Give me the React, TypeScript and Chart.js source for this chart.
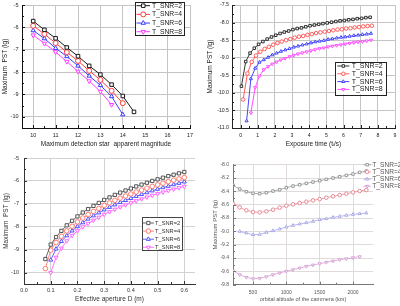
import { useEffect, useRef } from "react";
import { Chart, registerables } from "chart.js";
import { drawPoint } from "chart.js/helpers";

Chart.register(...registerables);

const FONT = "'Liberation Sans', Arial, sans-serif";
const SNR_LABELS = ["T_SNR=2", "T_SNR=4", "T_SNR=6", "T_SNR=8"];

// ---- Panel A: limiting magnitude vs PST ----
const MAGNITUDES = [10, 10.5, 11, 11.5, 12, 12.5, 13, 13.5, 14, 14.5];
const MAG_PST_SNR2 = [-5.72, -6.11, -6.49, -6.9, -7.29, -7.72, -8.11, -8.56, -9.07, -9.78];
const MAG_PST_SNR4 = [-5.93, -6.3, -6.7, -7.11, -7.5, -7.94, -8.35, -8.84, -9.39];
const MAG_PST_SNR6 = [-6.14, -6.5, -6.93, -7.3, -7.72, -8.17, -8.59, -9.09, -9.9];
const MAG_PST_SNR8 = [-6.35, -6.72, -7.1, -7.53, -7.97, -8.4, -8.87, -9.46];
const MAG_X_TICKS = [10, 11, 12, 13, 14, 15, 16, 17];
const MAG_Y_TICKS = [-5, -6, -7, -8, -9, -10];

// ---- Panel B: exposure time vs PST ----
const EXPO_T_SNR2 = [0.05, 0.3, 0.55, 0.8, 1.05, 1.3, 1.55, 1.8, 2.05, 2.3, 2.55, 2.8, 3.05, 3.3, 3.55, 3.8, 4.05, 4.3, 4.55, 4.8, 5.05, 5.3, 5.55, 5.8, 6.05, 6.3, 6.55, 6.8, 7.05, 7.3, 7.55];
const EXPO_PST_SNR2 = [-9.81, -9.11, -8.87, -8.73, -8.62, -8.54, -8.47, -8.41, -8.36, -8.31, -8.27, -8.24, -8.2, -8.17, -8.15, -8.12, -8.09, -8.07, -8.05, -8.03, -8.01, -7.99, -7.97, -7.95, -7.94, -7.92, -7.91, -7.89, -7.88, -7.86, -7.85];
const EXPO_T_SNR4 = [0.15, 0.4, 0.65, 0.9, 1.15, 1.4, 1.65, 1.9, 2.15, 2.4, 2.65, 2.9, 3.15, 3.4, 3.65, 3.9, 4.15, 4.4, 4.65, 4.9, 5.15, 5.4, 5.65, 5.9, 6.15, 6.4, 6.65, 6.9, 7.15, 7.4, 7.65];
const EXPO_PST_SNR4 = [-10.19, -9.45, -9.12, -8.94, -8.83, -8.75, -8.69, -8.63, -8.58, -8.54, -8.5, -8.47, -8.43, -8.4, -8.38, -8.35, -8.33, -8.3, -8.28, -8.26, -8.24, -8.22, -8.2, -8.19, -8.17, -8.16, -8.14, -8.13, -8.11, -8.1, -8.09];
const EXPO_T_SNR6 = [0.35, 0.6, 0.85, 1.1, 1.35, 1.6, 1.85, 2.1, 2.35, 2.6, 2.85, 3.1, 3.35, 3.6, 3.85, 4.1, 4.35, 4.6, 4.85, 5.1, 5.35, 5.6, 5.85, 6.1, 6.35, 6.6, 6.85, 7.1, 7.35, 7.6];
const EXPO_PST_SNR6 = [-10.8, -9.6, -9.3, -9.13, -9.06, -8.99, -8.92, -8.87, -8.82, -8.78, -8.74, -8.7, -8.67, -8.64, -8.61, -8.58, -8.55, -8.53, -8.51, -8.48, -8.46, -8.44, -8.42, -8.41, -8.39, -8.37, -8.36, -8.34, -8.33, -8.31];
const EXPO_T_SNR8 = [0.6, 0.85, 1.1, 1.35, 1.6, 1.85, 2.1, 2.35, 2.6, 2.85, 3.1, 3.35, 3.6, 3.85, 4.1, 4.35, 4.6, 4.85, 5.1, 5.35, 5.6, 5.85, 6.1, 6.35, 6.6, 6.85, 7.1, 7.35, 7.6];
const EXPO_PST_SNR8 = [-10.57, -9.85, -9.52, -9.34, -9.25, -9.18, -9.12, -9.06, -9.02, -8.97, -8.93, -8.89, -8.86, -8.83, -8.8, -8.77, -8.74, -8.72, -8.69, -8.67, -8.65, -8.63, -8.61, -8.59, -8.57, -8.55, -8.54, -8.52, -8.5];
const EXPO_X_TICKS = [0, 1, 2, 3, 4, 5, 6, 7, 8, 9];
const EXPO_Y_TICKS = [-7.5, -8, -8.5, -9, -9.5, -10, -10.5, -11];

// ---- Panel C: effective aperture vs PST ----
const APERTURE_D = [0.08, 0.1, 0.12, 0.14, 0.16, 0.18, 0.2, 0.22, 0.24, 0.26, 0.28, 0.3, 0.32, 0.34, 0.36, 0.38, 0.4, 0.42, 0.44, 0.46, 0.48, 0.5, 0.52, 0.54, 0.56, 0.58, 0.6];
const AP_PST_SNR2 = [-9.41, -8.78, -8.45, -8.18, -7.94, -7.74, -7.55, -7.38, -7.23, -7.09, -6.96, -6.83, -6.72, -6.61, -6.51, -6.42, -6.33, -6.24, -6.16, -6.08, -6.0, -5.93, -5.86, -5.79, -5.73, -5.67, -5.61];
const AP_PST_SNR4 = [-9.83, -9.02, -8.69, -8.42, -8.18, -7.98, -7.79, -7.62, -7.47, -7.33, -7.2, -7.07, -6.96, -6.85, -6.75, -6.66, -6.57, -6.48, -6.4, -6.32, -6.24, -6.17, -6.1, -6.03, -5.97, -5.91, -5.85];
const AP_PST_SNR6 = [-9.45, -8.97, -8.64, -8.39, -8.18, -7.99, -7.82, -7.66, -7.52, -7.39, -7.26, -7.15, -7.04, -6.94, -6.85, -6.76, -6.67, -6.59, -6.51, -6.43, -6.36, -6.29, -6.23, -6.16, -6.1, -6.04];
const AP_PST_SNR8 = [-10.01, -9.34, -8.94, -8.62, -8.38, -8.18, -8.01, -7.86, -7.72, -7.59, -7.46, -7.35, -7.24, -7.14, -7.05, -6.96, -6.87, -6.79, -6.71, -6.63, -6.56, -6.49, -6.42, -6.36, -6.3, -6.24];
const AP_X_TICKS = [0, 0.1, 0.2, 0.3, 0.4, 0.5, 0.6];
const AP_Y_TICKS = [-5, -6, -7, -8, -9, -10];

// ---- Panel D: orbital altitude vs PST ----
const ALTITUDE_KM = [200, 300, 400, 500, 600, 700, 800, 900, 1000, 1100, 1200, 1300, 1400, 1500, 1600, 1700, 1800, 1900, 2000, 2100, 2200];
const ALT_PST_SNR2 = [-8.31, -8.365, -8.405, -8.43, -8.435, -8.42, -8.395, -8.375, -8.345, -8.32, -8.3, -8.28, -8.26, -8.24, -8.22, -8.2, -8.18, -8.16, -8.14, -8.115, -8.095];
const ALT_PST_SNR4 = [-8.585, -8.64, -8.685, -8.71, -8.715, -8.7, -8.675, -8.645, -8.615, -8.595, -8.575, -8.555, -8.535, -8.515, -8.495, -8.475, -8.455, -8.435, -8.415, -8.395, -8.38];
const ALT_PST_SNR6 = [-9.0, -9.025, -9.05, -9.045, -9.015, -8.99, -8.965, -8.935, -8.91, -8.89, -8.87, -8.85, -8.825, -8.81, -8.79, -8.775, -8.76, -8.745, -8.735, -8.725];
const ALT_PST_SNR8 = [-9.59, -9.65, -9.69, -9.71, -9.705, -9.68, -9.65, -9.625, -9.6, -9.575, -9.55, -9.525, -9.505, -9.485, -9.465, -9.445, -9.425, -9.41, -9.395, -9.38];
const ALT_X_TICKS = [500, 1000, 1500, 2000];
const ALT_Y_TICKS = [-8, -8.2, -8.4, -8.6, -8.8, -9, -9.2, -9.4, -9.6, -9.8];

const STYLES = [
  { style: "rect", rotation: 0 },
  { style: "circle", rotation: 0 },
  { style: "triangle", rotation: 0 },
  { style: "triangle", rotation: 180 },
];

// Legend drawn as a small framed table of line + marker samples.
const boxLegend = {
  id: "boxLegend",
  afterDraw(chart: any, _args: any, o: any) {
    if (!o || !o.display) return;
    const ctx = chart.ctx;
    ctx.save();
    if (o.border) {
      ctx.fillStyle = "#fff";
      ctx.fillRect(o.x, o.y, o.w, o.h);
      ctx.strokeStyle = o.border;
      ctx.lineWidth = 1;
      ctx.strokeRect(Math.round(o.x) + 0.5, Math.round(o.y) + 0.5, Math.round(o.w), Math.round(o.h));
    }
    chart.data.datasets.forEach((ds: any, i: number) => {
      const cy = o.y + o.firstRow + i * o.rowH;
      ctx.strokeStyle = ds.borderColor;
      ctx.lineWidth = ds.borderWidth;
      ctx.beginPath();
      ctx.moveTo(o.lineX0, cy);
      ctx.lineTo(o.lineX1, cy);
      ctx.stroke();
      ctx.fillStyle = "#fff";
      ctx.strokeStyle = ds.pointBorderColor;
      ctx.lineWidth = 1;
      drawPoint(ctx, { pointStyle: ds.pointStyle, rotation: ds.pointRotation, radius: ds.pointRadius, borderWidth: 1 } as any, (o.lineX0 + o.lineX1) / 2, cy);
      ctx.fillStyle = o.textColor;
      ctx.font = `${o.fontSize}px ${FONT}`;
      ctx.textBaseline = "middle";
      ctx.textAlign = "left";
      ctx.fillText(ds.label, o.textX, cy);
    });
    ctx.restore();
  },
};

// Short inward-pointing major/minor tick marks on the left and bottom axes.
const innerTicks = {
  id: "innerTicks",
  afterDatasetsDraw(chart: any, _args: any, o: any) {
    if (!o || !o.display) return;
    const { ctx, chartArea, scales } = chart;
    ctx.save();
    ctx.strokeStyle = o.color;
    ctx.lineWidth = 1;
    const mids = (vals: number[]) => {
      const m: number[] = [];
      for (let i = 0; i < vals.length - 1; i++) m.push((vals[i] + vals[i + 1]) / 2);
      return m;
    };
    const xv = scales.x.ticks.map((t: any) => t.value);
    const yv = scales.y.ticks.map((t: any) => t.value);
    ctx.beginPath();
    const addX = (v: number, len: number) => {
      const px = Math.round(scales.x.getPixelForValue(v)) + 0.5;
      ctx.moveTo(px, chartArea.bottom);
      ctx.lineTo(px, chartArea.bottom - len);
    };
    const addY = (v: number, len: number) => {
      const py = Math.round(scales.y.getPixelForValue(v)) + 0.5;
      ctx.moveTo(chartArea.left, py);
      ctx.lineTo(chartArea.left + len, py);
    };
    xv.forEach((v: number) => addX(v, 3));
    mids(xv).forEach((v: number) => addX(v, 2));
    yv.forEach((v: number) => addY(v, 3));
    mids(yv).forEach((v: number) => addY(v, 2));
    ctx.stroke();
    ctx.restore();
  },
};

type Axis = {
  min: number; max: number; ticks: number[]; fmt: (v: number) => string;
  title: string; titleSize: number; titlePad: number; tickSize: number; tickPad: number;
};

type Spec = {
  width: number; height: number;
  area: { l: number; t: number; r: number; b: number };
  x: Axis; y: Axis;
  gridColor: string; axisColor: string; textColor: string;
  lineWidth: number; pointRadius: number;
  series: { xs: number[]; ys: number[]; color: string }[];
  legend: any;
};

function makeChart(canvas: HTMLCanvasElement, s: Spec) {
  const axis = (a: Axis, horizontal: boolean) => ({
    type: "linear",
    min: a.min,
    max: a.max,
    afterBuildTicks: (sc: any) => {
      sc.ticks = a.ticks.map((v) => ({ value: v }));
    },
    afterFit: (sc: any) => {
      if (horizontal) sc.height = s.height - s.area.b;
      else sc.width = s.area.l;
      sc.paddingTop = 0;
      sc.paddingBottom = 0;
      sc.paddingLeft = 0;
      sc.paddingRight = 0;
    },
    grid: { color: s.gridColor, lineWidth: 1, drawTicks: false },
    border: { display: true, color: s.axisColor, width: 1 },
    ticks: {
      autoSkip: false,
      maxRotation: 0,
      padding: a.tickPad,
      color: s.textColor,
      font: { family: FONT, size: a.tickSize },
      callback: (v: any) => a.fmt(Number(v)),
    },
    title: {
      display: true,
      text: a.title,
      color: s.textColor,
      font: { family: FONT, size: a.titleSize },
      padding: horizontal ? { top: 0, bottom: a.titlePad } : { top: a.titlePad, bottom: 0 },
    },
  });

  return new Chart(canvas, {
    type: "line",
    data: {
      datasets: s.series.map((se, i) => ({
        label: SNR_LABELS[i],
        data: se.xs.map((x, k) => ({ x, y: se.ys[k] })),
        borderColor: se.color,
        borderWidth: s.lineWidth,
        pointStyle: STYLES[i].style,
        pointRotation: STYLES[i].rotation,
        pointRadius: s.pointRadius,
        pointBorderColor: se.color,
        pointBackgroundColor: "#fff",
        pointBorderWidth: 1,
        tension: 0,
        fill: false,
      })),
    } as any,
    options: {
      responsive: false,
      animation: false,
      devicePixelRatio: 1,
      layout: { padding: { left: 0, top: s.area.t, right: s.width - s.area.r, bottom: 0 } },
      scales: { x: axis(s.x, true), y: axis(s.y, false) } as any,
      plugins: {
        legend: { display: false },
        tooltip: { enabled: false },
        boxLegend: s.legend,
        innerTicks: { display: true, color: s.axisColor },
      } as any,
    },
    plugins: [innerTicks, boxLegend],
  });
}

const W = 200;
const H = 153;
const str = (v: number) => String(v);
const fix1 = (v: number) => v.toFixed(1);

const PANELS: { left: number; top: number; spec: Spec }[] = [
  {
    left: 0,
    top: 0,
    spec: {
      width: W, height: H,
      area: { l: 22, t: 2, r: 190, b: 128 },
      x: { min: 9.5, max: 17, ticks: MAG_X_TICKS, fmt: str, title: "Maximum detection star  apparent magnitude", titleSize: 6.5, titlePad: 5.1, tickSize: 5.5, tickPad: 4.2 },
      y: { min: -10.5, max: -5, ticks: MAG_Y_TICKS, fmt: str, title: "Maximum  PST (lg)", titleSize: 6.5, titlePad: 1.1, tickSize: 5.5, tickPad: 3.5 },
      gridColor: "#c4c4c4", axisColor: "#111", textColor: "#222",
      lineWidth: 1, pointRadius: 2.5,
      series: [
        { xs: MAGNITUDES, ys: MAG_PST_SNR2, color: "#1a1a1a" },
        { xs: MAGNITUDES, ys: MAG_PST_SNR4, color: "#ff3b3b" },
        { xs: MAGNITUDES, ys: MAG_PST_SNR6, color: "#3b3bff" },
        { xs: MAGNITUDES, ys: MAG_PST_SNR8, color: "#ff40ff" },
      ],
      legend: { display: true, x: 135, y: 1.5, w: 49, h: 33, firstRow: 4.2, rowH: 8.67, lineX0: 136.5, lineX1: 150, textX: 152, fontSize: 6.8, border: "#222", textColor: "#222" },
    },
  },
  {
    left: 200,
    top: 0,
    spec: {
      width: W, height: H,
      area: { l: 32, t: 4, r: 198, b: 128 },
      x: { min: -0.5, max: 9, ticks: EXPO_X_TICKS, fmt: str, title: "Exposure time (tᵢ/s)", titleSize: 6.5, titlePad: 4.8, tickSize: 5.2, tickPad: 4 },
      y: { min: -11, max: -7.5, ticks: EXPO_Y_TICKS, fmt: fix1, title: "Maximum PST (lg)", titleSize: 6.5, titlePad: 6.1, tickSize: 5.2, tickPad: 3 },
      gridColor: "#c4c4c4", axisColor: "#222", textColor: "#222",
      lineWidth: 1, pointRadius: 1.8,
      series: [
        { xs: EXPO_T_SNR2, ys: EXPO_PST_SNR2, color: "#333333" },
        { xs: EXPO_T_SNR4, ys: EXPO_PST_SNR4, color: "#ff5a5a" },
        { xs: EXPO_T_SNR6, ys: EXPO_PST_SNR6, color: "#4545ff" },
        { xs: EXPO_T_SNR8, ys: EXPO_PST_SNR8, color: "#ff50ff" },
      ],
      legend: { display: true, x: 135, y: 61.7, w: 50.7, h: 32.6, firstRow: 4.3, rowH: 7.8, lineX0: 137.3, lineX1: 149.3, textX: 151.7, fontSize: 7, border: "#222", textColor: "#222" },
    },
  },
  {
    left: 0,
    top: 153,
    spec: {
      width: W, height: H,
      area: { l: 24, t: 1, r: 199, b: 131 },
      x: { min: 0, max: 0.64, ticks: AP_X_TICKS, fmt: fix1, title: "Effective aperture D (m)", titleSize: 6.5, titlePad: 2.4, tickSize: 5.5, tickPad: 3 },
      y: { min: -10.5, max: -5, ticks: AP_Y_TICKS, fmt: str, title: "Maximum  PST (lg)", titleSize: 6.5, titlePad: 2.8, tickSize: 5.5, tickPad: 5 },
      gridColor: "#d2d2d2", axisColor: "#333", textColor: "#333",
      lineWidth: 0.9, pointRadius: 2.3,
      series: [
        { xs: APERTURE_D, ys: AP_PST_SNR2, color: "#555555" },
        { xs: APERTURE_D, ys: AP_PST_SNR4, color: "#ff7a70" },
        { xs: APERTURE_D.slice(1), ys: AP_PST_SNR6, color: "#5050ff" },
        { xs: APERTURE_D.slice(1), ys: AP_PST_SNR8, color: "#ff66ff" },
      ],
      legend: { display: true, x: 141.7, y: 64.3, w: 40, h: 33.4, firstRow: 5.7, rowH: 8.1, lineX0: 142.7, lineX1: 154, textX: 155, fontSize: 5.7, border: "#444", textColor: "#333" },
    },
  },
  {
    left: 200,
    top: 153,
    spec: {
      width: W, height: H,
      area: { l: 33, t: 11.7, r: 173, b: 131.7 },
      x: { min: 200, max: 2300, ticks: ALT_X_TICKS, fmt: str, title: "orbital altitude of the cammera (km)", titleSize: 5.5, titlePad: 3.7, tickSize: 5, tickPad: 4.6 },
      y: { min: -9.8, max: -8, ticks: ALT_Y_TICKS, fmt: fix1, title: "Maximum PST (lg)", titleSize: 6, titlePad: 11.4, tickSize: 5, tickPad: 4 },
      gridColor: "#e0dada", axisColor: "#777", textColor: "#555",
      lineWidth: 0.8, pointRadius: 1.8,
      series: [
        { xs: ALTITUDE_KM, ys: ALT_PST_SNR2, color: "#9a9a9a" },
        { xs: ALTITUDE_KM, ys: ALT_PST_SNR4, color: "#e88a95" },
        { xs: ALTITUDE_KM.slice(1), ys: ALT_PST_SNR6, color: "#a8a8e8" },
        { xs: ALTITUDE_KM.slice(0, 20), ys: ALT_PST_SNR8, color: "#d7a0d7" },
      ],
      legend: { display: true, x: 163, y: 0, w: 0, h: 0, firstRow: 11.7, rowH: 7.2, lineX0: 163.3, lineX1: 171, textX: 172.3, fontSize: 6.6, border: null, textColor: "#555" },
    },
  },
];

function Panel({ left, top, spec }: { left: number; top: number; spec: Spec }) {
  const ref = useRef<HTMLCanvasElement>(null);
  useEffect(() => {
    if (!ref.current) return;
    const chart = makeChart(ref.current, spec);
    return () => chart.destroy();
  }, [spec]);
  return (
    <canvas
      ref={ref}
      width={spec.width}
      height={spec.height}
      style={{ position: "absolute", left, top, width: spec.width, height: spec.height }}
    />
  );
}

export default function App() {
  return (
    <div style={{ position: "fixed", left: 0, top: 0, width: 400, height: 306, background: "#fff", overflow: "hidden" }}>
      {PANELS.map((p, i) => (
        <Panel key={i} left={p.left} top={p.top} spec={p.spec} />
      ))}
    </div>
  );
}
